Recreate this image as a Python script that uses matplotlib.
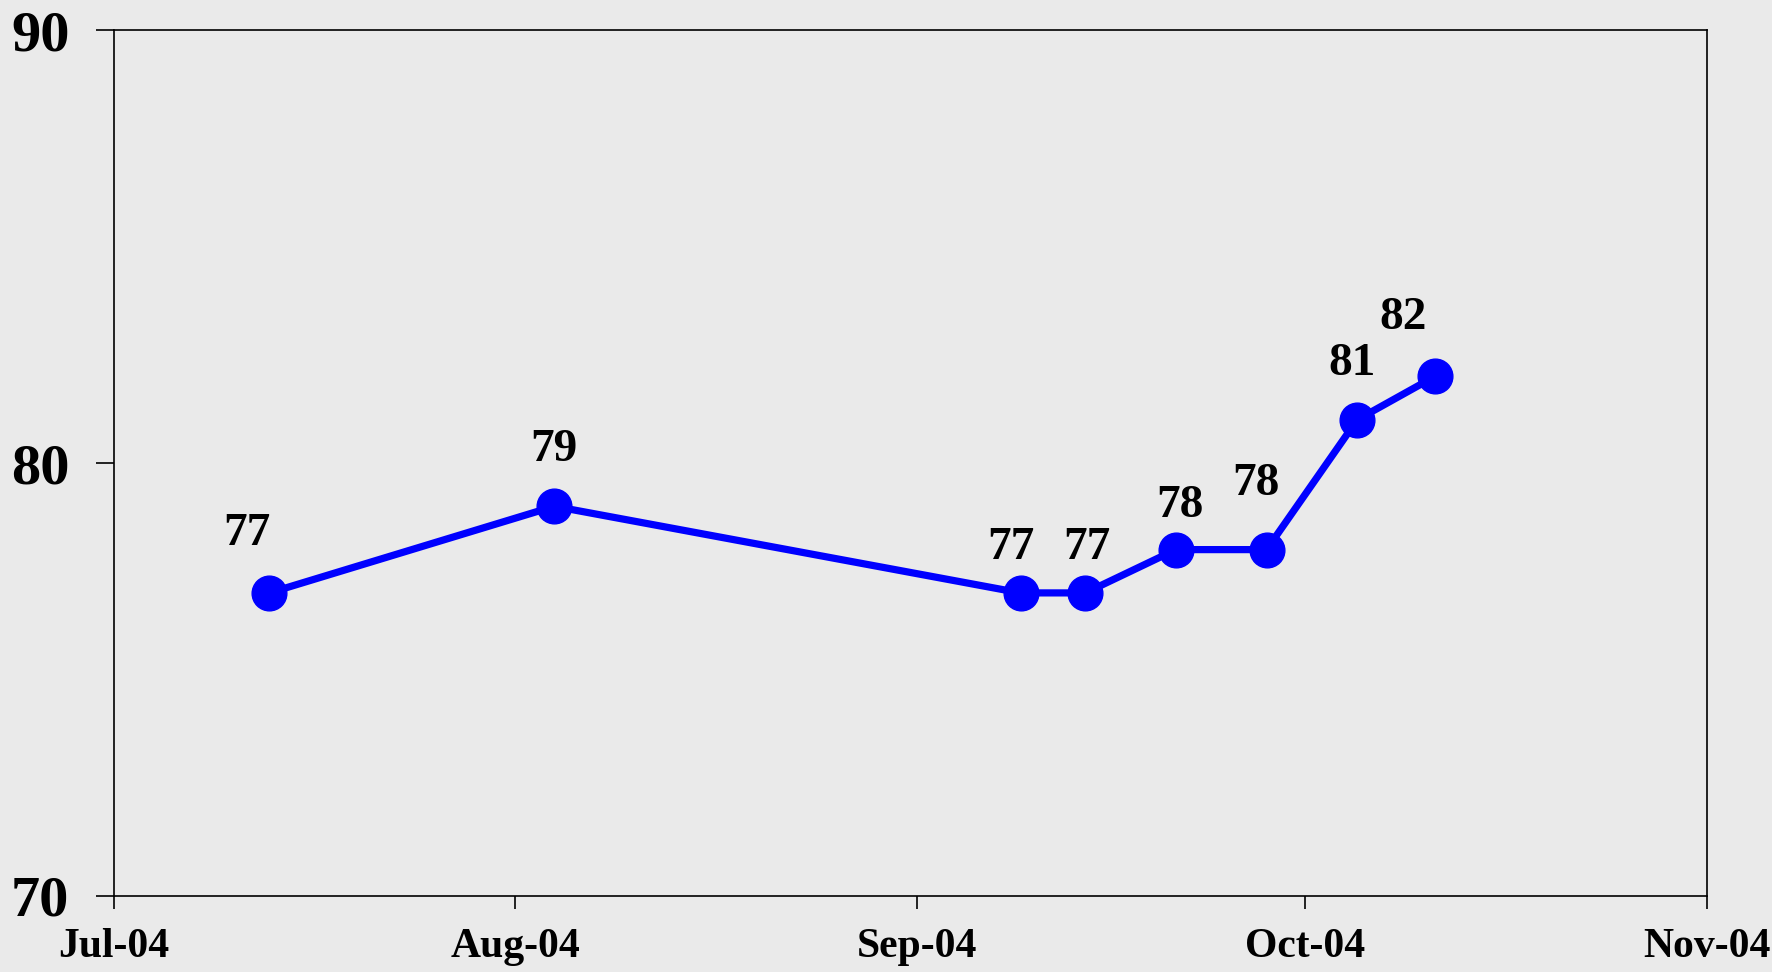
import matplotlib
matplotlib.use("Agg")
import matplotlib.pyplot as plt
import datetime as dt

dates = ["2004-07-13", "2004-08-04", "2004-09-09", "2004-09-14",
         "2004-09-21", "2004-09-28", "2004-10-05", "2004-10-11"]
values = [77, 79, 77, 77, 78, 78, 81, 82]
labels = ["77", "79", "77", "77", "78", "78", "81", "82"]
xticks = ["2004-07-01", "2004-08-01", "2004-09-01", "2004-10-01", "2004-11-01"]
xtick_labels = ["Jul-04", "Aug-04", "Sep-04", "Oct-04", "Nov-04"]
yticks = [70, 80, 90]

# label offsets in pixels (style)
offsets = [(-22, 59), (0, 56), (-10, 45), (2, 45), (4, 44), (-11, 66), (-5, 56), (-32, 58)]

x = [dt.datetime.strptime(d, "%Y-%m-%d") for d in dates]
xt = [dt.datetime.strptime(d, "%Y-%m-%d") for d in xticks]

bg = "#EAEAEA"
plt.rcParams['font.family'] = ['Liberation Serif', 'DejaVu Serif']
plt.rcParams['font.weight'] = 'bold'

fig = plt.figure(figsize=(17.72, 9.72), dpi=100, facecolor=bg)
ax = fig.add_axes([0.0643, 0.0782, 0.899, 0.8909], facecolor=bg)

ax.plot(x, values, color="#0000FF", lw=5.2, marker="o", markersize=25,
        markerfacecolor="#0000FF", markeredgecolor="#0000FF", zorder=3)

for xi, v, lab, (dx, dy) in zip(x, values, labels, offsets):
    ax.annotate(lab, (xi, v), xytext=(dx, dy), textcoords="offset pixels",
                ha="center", va="center", fontsize=34, fontweight="bold")

ax.set_xlim(xt[0], xt[-1])
ax.set_ylim(70, 90)
ax.set_xticks(xt)
ax.set_xticklabels(xtick_labels)
ax.set_yticks(yticks)
ax.set_yticklabels([str(t) for t in yticks])

for s in ax.spines.values():
    s.set_linewidth(1.2)
    s.set_color("black")

ax.tick_params(axis="y", direction="out", length=13, width=1.2, pad=19, labelsize=42)
ax.tick_params(axis="x", direction="out", length=9, width=1.2, pad=14, labelsize=30)
for t in ax.get_xticklabels() + ax.get_yticklabels():
    t.set_fontweight("bold")

fig.savefig("out.png", dpi=100, facecolor=bg)
